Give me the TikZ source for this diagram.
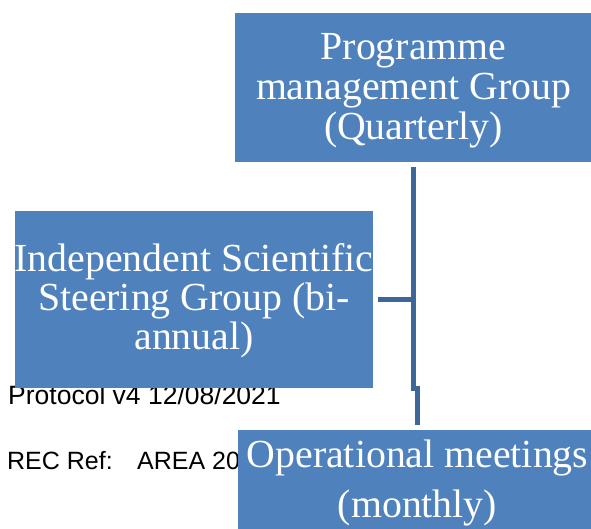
\documentclass[tikz,border=0pt]{standalone}
\usepackage{fontspec}
\setmainfont{Liberation Serif}
\newfontfamily\arialfont{Liberation Sans}
\usetikzlibrary{calc}
\definecolor{boxblue}{HTML}{4F81BD}
\definecolor{connblue}{HTML}{3D679A}
\tikzset{
  orgbox/.style={fill=boxblue, draw=none, inner sep=0pt},
  boxtext/.style={inner sep=0pt, text=white, align=center,
    font=\fontsize{39.8}{40}\selectfont},
  conn/.style={draw=connblue, line width=5pt},
  doctext/.style={inner sep=0pt, anchor=base west, font=\arialfont\fontsize{25}{30}\selectfont}
}
\begin{document}
\begin{tikzpicture}[x=1pt,y=-1pt]
\useasboundingbox (0,0) rectangle (591,528);
\clip (0,0) rectangle (591,528);
% background document text
\node[doctext, font=\arialfont\fontsize{26.5}{30}\selectfont] (proto) at (8,404) {Protocol v4 12/08/2021};
\node[doctext] (rec) at (7,469) {REC Ref:};
\node[doctext] (area) at (137,469) {AREA 20};
% boxes
\node[orgbox, minimum width=357pt, minimum height=149pt] (top) at (413.5,87.5) {};
\node[boxtext] (toptext) at ($(top.center)+(0,3.7)$)
  {Programme\\management Group\\(Quarterly)};
\node[orgbox, minimum width=358pt, minimum height=177pt] (left) at (194,299.5) {};
\node[boxtext, font=\fontsize{39.8}{39}\selectfont] (lefttext) at ($(left.center)+(0,1.4)$)
  {Independent Scientific\\Steering Group (bi-\\annual)};
\node[orgbox, minimum width=359pt, minimum height=105pt] (bottom) at (417.5,482.5) {};
\node[boxtext] (bottomtext) at ($(bottom.center)+(0,0.3)$)
  {Operational meetings\\[10pt](monthly)};
% connectors
\draw[conn] ([yshift=-5pt]top.south) -- (top.south |- 0,388) -- (bottom.north |- 0,388) -- ([yshift=5pt]bottom.north);
\draw[conn] ([xshift=5pt]left.east) -- (left.east -| top.south);
\end{tikzpicture}
\end{document}
